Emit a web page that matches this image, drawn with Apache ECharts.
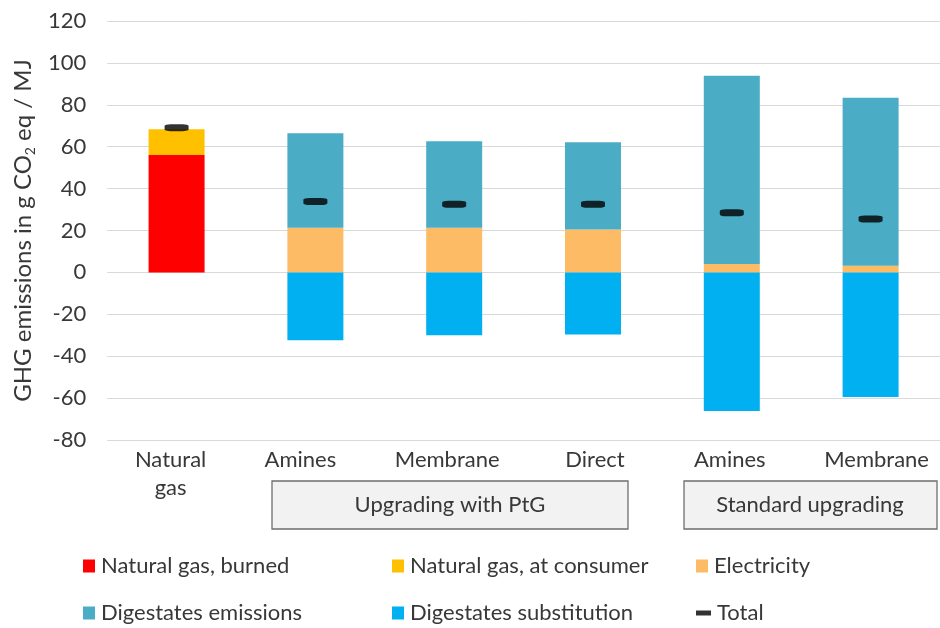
<!DOCTYPE html>
<html>
<head>
<meta charset="utf-8">
<script src="https://cdn.jsdelivr.net/npm/echarts@6/dist/echarts.min.js"></script>
<style>html,body{margin:0;padding:0;background:#fff}#c{width:940px;height:628px}</style>
</head>
<body>
<div id="c"></div>
<script>
// ---- data ----
const categories = ['Natural gas', 'Amines', 'Membrane', 'Direct', 'Amines', 'Membrane'];
const gasBurned     = [56,   null, null, null, null, null];
const gasConsumer   = [12.3, null, null, null, null, null];
const electricity   = [null, 21.3, 21.3, 20.5, 4.0, 3.2];
const digEmissions  = [null, 45.1, 41.3, 41.6, 89.9, 80.2];
const digSubstitute = [null, -32.4, -30.0, -29.6, -66.2, -59.5];
const total         = [69.1, 33.8, 32.5, 32.5, 28.5, 25.5];
const yTicks = { min: -80, max: 120, interval: 20 };
const groupLabels = ['Upgrading with PtG', 'Standard upgrading'];
const seriesNames = ['Natural gas, burned', 'Natural gas, at consumer', 'Electricity',
                     'Digestates emissions', 'Digestates substitution', 'Total'];

// ---- style ----
const FONT = 'Lato, "Open Sans", sans-serif';
const TXT = '#383838';
const colors = ['#FF0000', '#FFC000', '#FDBB66', '#4BACC6', '#00B0F0', '#000000'];
const labelShift = [-6, -15, -7, 2, -2, 6];

const chart = echarts.init(document.getElementById('c'), null, { renderer: 'canvas' });

function barSeries(i, data) {
  return {
    name: seriesNames[i], type: 'bar', stack: 'all', data: data,
    barWidth: 56, itemStyle: { color: colors[i] }, emphasis: { disabled: true }
  };
}

const legendPos = [[83, 555], [392, 555], [696, 555], [83, 602], [392, 602], [696, 602]];
const legends = seriesNames.map((n, i) => ({
  data: [{ name: n, icon: 'rect' }],
  left: legendPos[i][0], top: legendPos[i][1], padding: 0,
  itemWidth: i === 5 ? 15 : 12, itemHeight: i === 5 ? 5 : 13,
  selectedMode: false,
  textStyle: { fontFamily: FONT, fontSize: 22, color: TXT, padding: [0, 0, 0, 1] }
}));

const rich = {};
labelShift.forEach((s, i) => {
  rich['l' + i] = {
    fontFamily: FONT, fontSize: 22, color: TXT, lineHeight: 28, align: 'center',
    padding: s < 0 ? [0, -2 * s, 0, 0] : [0, 0, 0, 2 * s]
  };
});

chart.setOption({
  animation: false,
  color: colors,
  grid: { left: 104, top: 21, width: 844, height: 419, containLabel: false },
  legend: legends,
  xAxis: {
    type: 'category', data: categories, position: 'bottom',
    axisLine: { show: false }, axisTick: { show: false },
    axisLabel: {
      interval: 0, margin: 6,
      formatter: (v, idx) => v.split(' ').map(w => '{l' + idx + '|' + w + '}').join('\n'),
      rich: rich
    }
  },
  yAxis: {
    type: 'value', min: yTicks.min, max: yTicks.max, interval: yTicks.interval,
    axisLine: { show: false }, axisTick: { show: false },
    splitLine: { lineStyle: { color: '#D9D9D9', width: 1 } },
    axisLabel: { fontFamily: FONT, fontSize: 22, color: TXT, margin: 21 },
    name: '{m|GHG emissions in g CO}{s|2}{m| eq / MJ}',
    nameLocation: 'middle', nameRotate: 90, nameGap: 64,
    nameTextStyle: {
      rich: {
        m: { fontFamily: FONT, fontSize: 24, color: TXT, lineHeight: 28, verticalAlign: 'middle' },
        s: { fontFamily: FONT, fontSize: 14, color: TXT, lineHeight: 28, verticalAlign: 'bottom', padding: [15, 0, 0, 0] }
      }
    }
  },
  series: [
    barSeries(0, gasBurned),
    barSeries(1, gasConsumer),
    barSeries(2, electricity),
    barSeries(3, digEmissions),
    barSeries(4, digSubstitute),
    {
      name: seriesNames[5], type: 'scatter', data: total, z: 5,
      symbol: 'roundRect', symbolSize: [24, 7], itemStyle: { color: '#000' },
      emphasis: { disabled: true }
    }
  ],
  graphic: [
    { type: 'rect', shape: { x: 272, y: 481, width: 356, height: 48 },
      style: { fill: '#F2F2F2', stroke: '#6E6E6E', lineWidth: 1.3 } },
    { type: 'text', x: 450, y: 505, style: { text: groupLabels[0], font: '22px ' + FONT, fill: TXT, align: 'center', verticalAlign: 'middle' } },
    { type: 'rect', shape: { x: 684, y: 481, width: 253, height: 48 },
      style: { fill: '#F2F2F2', stroke: '#6E6E6E', lineWidth: 1.3 } },
    { type: 'text', x: 810, y: 505, style: { text: groupLabels[1], font: '22px ' + FONT, fill: TXT, align: 'center', verticalAlign: 'middle' } }
  ]
});
</script>
</body>
</html>
